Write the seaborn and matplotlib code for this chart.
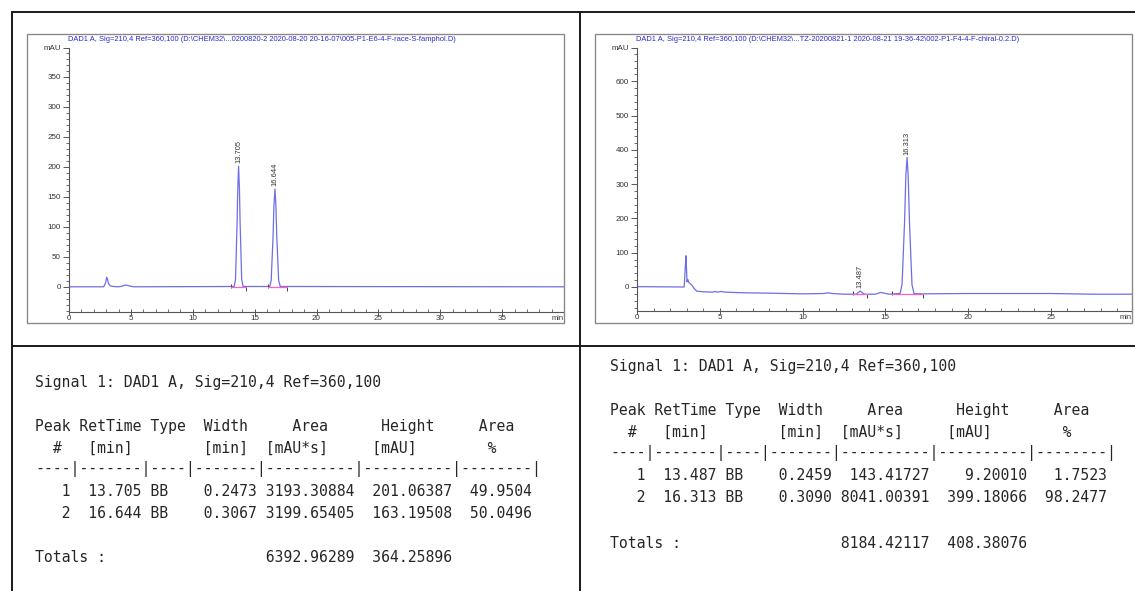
import matplotlib.pyplot as plt
from matplotlib.lines import Line2D
from matplotlib.patches import Rectangle
import pandas as pd
import seaborn as sns

# --- left run (racemate): trace points (min, mAU)
left_time = [0, 2.8, 2.95, 3.05, 3.12, 3.2, 3.35, 3.6, 4.0, 4.3, 4.55, 4.8, 5.2,
             13.34, 13.455, 13.585, 13.635, 13.705, 13.775, 13.825, 13.955, 14.07,
             16.22, 16.34, 16.49, 16.56, 16.644, 16.72, 16.79, 16.94, 17.07, 40]
left_signal = [0, 0, 6, 16, 12, 5, 1.5, 0.5, 0, 1, 3, 2, 0,
               0.5, 12, 108, 161, 201, 161, 108, 12, 0.5,
               0.5, 11, 84, 135, 163, 135, 84, 11, 0.5, 0]
left_title = ("DAD1 A, Sig=210,4 Ref=360,100 (D:\\CHEM32\\...0200820-2 2020-08-20 "
              "20-16-07\\005-P1-E6-4-F-race-S-famphol.D)")
left_base_start = [13.1, 16.1]
left_base_end = [14.3, 17.6]
left_base_level = [0, 0]

# --- right run (chiral product)
right_time = [0, 2.85, 2.92, 2.96, 3.02, 3.07, 3.12, 3.2, 3.3, 3.45, 3.6, 4.0, 4.6,
              4.7, 4.85, 5.1, 5.3, 6.5, 8.0, 10.0, 11.3, 11.5, 11.8, 12.5,
              13.25, 13.37, 13.487, 13.6, 13.72, 14.4, 14.7, 14.95, 15.2, 15.89,
              16.01, 16.16, 16.24, 16.313, 16.38, 16.46, 16.61, 16.73, 17.2,
              20, 25, 27.5, 30]
right_signal = [1, 0, 60, 91, 15, 22, 14, 10, 6, -4, -12, -14, -15,
                -13, -15, -13, -15, -17, -18, -20, -19, -17, -19, -21,
                -21, -16, -12, -16, -21, -21, -16, -18, -21, -19,
                7, 187, 325, 378, 325, 187, 7, -19, -20,
                -19, -19, -21, -21]
right_title = ("DAD1 A, Sig=210,4 Ref=360,100 (D:\\CHEM32\\...TZ-20200821-1 2020-08-21 "
               "19-36-42\\002-P1-F4-4-F-chiral-0.2.D)")
right_base_start = [13.05, 15.38]
right_base_end = [13.87, 17.25]
right_base_level = [-21, -21]

# --- integration tables
left_peak = [1, 2]
left_rt = [13.705, 16.644]
left_type = ["BB", "BB"]
left_width = [0.2473, 0.3067]
left_area = [3193.30884, 3199.65405]
left_height = [201.06387, 163.19508]
left_pct = [49.9504, 50.0496]
left_totals = [6392.96289, 364.25896]

right_peak = [1, 2]
right_rt = [13.487, 16.313]
right_type = ["BB", "BB"]
right_width = [0.2459, 0.3090]
right_area = [143.41727, 8041.00391]
right_height = [9.20010, 399.18066]
right_pct = [1.7523, 98.2477]
right_totals = [8184.42117, 408.38076]

W, H = 1135, 591
TRACE = "#6e6ee6"
PINK = "#ff5fc8"

sns.set_theme(style="ticks")
plt.rcParams["font.family"] = ["Liberation Sans", "DejaVu Sans"]

fig = plt.figure(figsize=(W / 100, H / 100), dpi=100)


def fbox(x0, y0, x1, y1):
    # pixel box -> figure fraction [left, bottom, width, height]
    return [x0 / W, 1 - y1 / H, (x1 - x0) / W, (y1 - y0) / H]


def chromatogram(box, time, signal, xmax, ylim, ymajor, ystep_minor, title,
                 rts, tops, b_start, b_end, b_level):
    ax = fig.add_axes(fbox(*box))
    df = pd.DataFrame({"time": time, "mAU": signal})
    sns.lineplot(data=df, x="time", y="mAU", ax=ax, color=TRACE, lw=0.9,
                 estimator=None, sort=False)
    for s, e, lv in zip(b_start, b_end, b_level):
        ax.plot([s, e], [lv, lv], color=PINK, lw=0.9, zorder=3)
        ax.plot([s], [lv + 2 * ystep_minor / 10], marker="|", color="#444",
                ms=3, mew=0.7)
        ax.plot([e], [lv - 3 * ystep_minor / 10], marker="|", color="#444",
                ms=3, mew=0.7)
    for rt, top in zip(rts, tops):
        ax.annotate(f"{rt:.3f}", xy=(rt, top), xytext=(0, 2),
                    textcoords="offset points", rotation=90, ha="center",
                    va="bottom", fontsize=5.4, color="#333")
    ax.set_xlim(0, xmax)
    ax.set_ylim(*ylim)
    ax.set_xticks(list(range(0, int(xmax), 5)))
    ax.set_xticks([v for v in range(0, int(xmax) + 1)], minor=True)
    ax.set_yticks(ymajor + [ylim[1]])
    ax.set_yticklabels([str(v) for v in ymajor] + ["mAU"])
    lo = int(ylim[0] / ystep_minor) * ystep_minor
    ax.set_yticks(list(range(lo, int(ylim[1]), ystep_minor)), minor=True)
    ax.set_xlabel("")
    ax.set_ylabel("")
    sns.despine(ax=ax)
    for sp in ("left", "bottom"):
        ax.spines[sp].set_color("#555")
        ax.spines[sp].set_linewidth(0.8)
    ax.tick_params(axis="y", which="major", direction="out", length=4,
                   width=0.7, color="#555", labelsize=5.8, pad=2,
                   labelcolor="#333")
    ax.tick_params(axis="y", which="minor", direction="out", length=2.2,
                   width=0.6, color="#555")
    ax.tick_params(axis="x", which="major", direction="inout", length=4,
                   width=0.7, color="#555", labelsize=5.8, pad=0.5,
                   labelcolor="#333")
    ax.tick_params(axis="x", which="minor", direction="in", length=2.2,
                   width=0.6, color="#555")
    ax.text(1.0, -0.012, "min", transform=ax.transAxes, ha="right", va="top",
            fontsize=5.4, color="#333")
    ax.text(-0.002, 1.032, title, transform=ax.transAxes, ha="left",
            va="center", fontsize=5.45, color="#2a2acc")
    ax.patch.set_alpha(0)
    return ax


chromatogram((69, 48, 564, 312), left_time, left_signal, 40.0, (-42, 398),
             list(range(0, 351, 50)), 10, left_title, left_rt, left_height,
             left_base_start, left_base_end, left_base_level)
chromatogram((637, 48, 1132, 311), right_time, right_signal, 29.9, (-70, 697),
             list(range(0, 601, 100)), 20, right_title, right_rt,
             [-21 + h for h in right_height],
             right_base_start, right_base_end, right_base_level)

# chart frames and page grid
for x0, x1 in ((27, 564), (595, 1132)):
    fig.patches.append(Rectangle((x0 / W, 1 - 323 / H), (x1 - x0) / W,
                                 (323 - 34) / H, fill=False, ec="#8a8a8a",
                                 lw=1.0, transform=fig.transFigure))
grid = [((12, 12), (1135, 12)), ((12, 12), (12, 591)),
        ((580, 12), (580, 591)), ((12, 346), (1135, 346))]
for (xa, ya), (xb, yb) in grid:
    fig.lines.append(Line2D([xa / W, xb / W], [1 - ya / H, 1 - yb / H],
                            color="#1a1a1a", lw=1.4,
                            transform=fig.transFigure))


def table_lines(peak, rt, typ, width, area, height, pct, totals):
    lines = ["Signal 1: DAD1 A, Sig=210,4 Ref=360,100",
             "Peak RetTime Type  Width     Area      Height     Area  ",
             "  #   [min]        [min]  [mAU*s]     [mAU]        %   ",
             "----|-------|----|-------|----------|----------|--------|"]
    for n, r, t, w, a, h, p in zip(peak, rt, typ, width, area, height, pct):
        lines.append(f"{n:4d} {r:7.3f} {t:<4s} {w:7.4f} {a:10.5f} "
                     f"{h:10.5f} {p:8.4f}")
    lines.append(f"{'Totals :':<26s}{totals[0]:10.5f} {totals[1]:10.5f}")
    return lines


def draw_table(x, ys, lines):
    for y, s in zip(ys, lines):
        fig.text(x / W, 1 - y / H, s, ha="left", va="center",
                 family="DejaVu Sans Mono", fontsize=10.65, color="#262626")


draw_table(35, [382, 426, 448, 469, 492, 514, 557],
           table_lines(left_peak, left_rt, left_type, left_width, left_area,
                       left_height, left_pct, left_totals))
draw_table(610, [366, 411, 432, 453, 476, 498, 543],
           table_lines(right_peak, right_rt, right_type, right_width,
                       right_area, right_height, right_pct, right_totals))

fig.savefig("out.png", dpi=100, facecolor="white")
